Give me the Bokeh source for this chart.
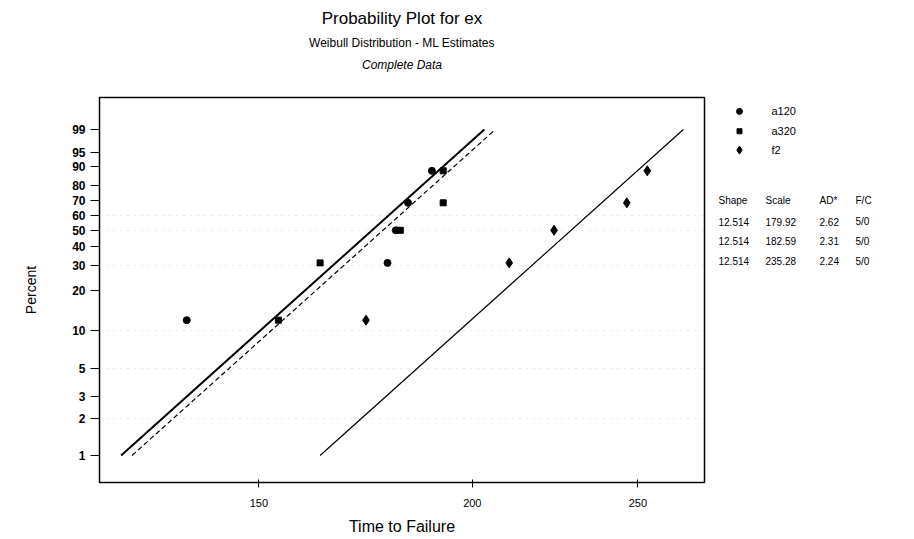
import numpy as np
from bokeh.plotting import figure
from bokeh.layouts import row
from bokeh.models import FixedTicker, Range1d, Title
from bokeh.core.properties import value
from bokeh.embed import file_html
from bokeh.resources import INLINE

# ---- data ----
groups = ["a120", "a320", "f2"]
percent = [12.0, 31.3, 50.0, 68.7, 88.0]
a120_time = [136.1, 178.4, 180.4, 183.4, 189.4]
a320_time = [154.0, 162.9, 181.5, 192.3, 192.3]
f2_time = [173.3, 210.2, 223.3, 246.3, 253.2]
shape = [12.514, 12.514, 12.514]
scale = [179.92, 182.59, 235.28]
ad_star = [2.62, 2.31, 2.24]
fc = ["5/0", "5/0", "5/0"]
table_header = ["Shape", "Scale", "AD*", "F/C"]
y_tick_pct = [1, 2, 3, 5, 10, 20, 30, 40, 50, 60, 70, 80, 90, 95, 99]
y_grid_pct = [2, 5, 10, 30, 50, 60]
x_ticks = [150, 200, 250]
line_pct = [1, 99]


def wb(p):
    p = np.asarray(p, dtype=float) / 100.0
    return np.log(-np.log(1.0 - p))


FONT = "Liberation Sans"
H = 537
P_W = 709
FRAME_TOP = 97
FRAME_BOTTOM = 485

p = figure(width=P_W, height=H, x_axis_type="log",
           x_range=Range1d(121.0, 273.5), y_range=Range1d(-5.109, 2.13),
           output_backend="svg", toolbar_location=None,
           min_border_left=99, min_border_right=5,
           min_border_top=FRAME_TOP, min_border_bottom=H - FRAME_BOTTOM)

p.background_fill_color = "white"
p.border_fill_color = "white"
p.outline_line_color = "black"
p.outline_line_width = 1.5

# titles (first added sits closest to the frame); first one is a blank spacer
p.add_layout(Title(text=" ", align="center", text_font=FONT,
                   text_font_size="12px", standoff=4), "above")
p.add_layout(Title(text="Complete Data", align="center", text_font=FONT,
                   text_font_size="12px", text_font_style="italic",
                   text_color="black", standoff=12), "above")
p.add_layout(Title(text="Weibull Distribution - ML Estimates", align="center",
                   text_font=FONT, text_font_size="12px", text_color="black",
                   text_font_style="normal", standoff=0), "above")
p.add_layout(Title(text="Probability Plot for ex", align="center",
                   text_font=FONT, text_font_size="17px", text_color="black",
                   text_font_style="normal", standoff=12), "above")

p.xgrid.visible = False
p.ygrid.ticker = FixedTicker(ticks=list(wb(y_grid_pct)))
p.ygrid.grid_line_color = "#cccccc"
p.ygrid.grid_line_dash = "1 6"
p.ygrid.grid_line_alpha = 0.8

# axes
p.yaxis.ticker = FixedTicker(ticks=list(wb(y_tick_pct)))
p.yaxis.major_label_overrides = {float(v): str(t) for v, t in zip(wb(y_tick_pct), y_tick_pct)}
p.yaxis.minor_tick_line_color = None
p.yaxis.major_tick_out = 9
p.yaxis.major_tick_in = 0
p.yaxis.major_label_text_font = FONT
p.yaxis.major_label_text_font_size = "12px"
p.yaxis.major_label_text_font_style = "bold"
p.yaxis.major_label_text_color = "black"
p.yaxis.major_label_standoff = 5
p.yaxis.axis_label = "Percent"
p.yaxis.axis_label_text_font = FONT
p.yaxis.axis_label_text_font_size = "14px"
p.yaxis.axis_label_text_font_style = "normal"
p.yaxis.axis_label_text_color = "black"
p.yaxis.axis_label_standoff = 30
p.yaxis.axis_line_color = "black"

p.xaxis.ticker = FixedTicker(ticks=x_ticks)
p.xaxis.major_label_overrides = {t: str(t) for t in x_ticks}
p.xaxis.minor_tick_line_color = None
p.xaxis.major_tick_out = 5
p.xaxis.major_tick_in = 3
p.xaxis.major_label_text_font = FONT
p.xaxis.major_label_text_font_size = "11px"
p.xaxis.major_label_text_color = "black"
p.xaxis.major_label_standoff = 11
p.xaxis.axis_label = "Time to Failure"
p.xaxis.axis_label_text_font = FONT
p.xaxis.axis_label_text_font_size = "16px"
p.xaxis.axis_label_text_font_style = "normal"
p.xaxis.axis_label_text_color = "black"
p.xaxis.axis_label_standoff = 8
p.xaxis.axis_line_color = "black"

# fitted lines
line_styles = [dict(line_width=2.0, line_dash="solid"),
               dict(line_width=1.2, line_dash="5 3"),
               dict(line_width=1.2, line_dash="solid")]
for sh, sc, st in zip(shape, scale, line_styles):
    yy = wb(line_pct)
    xx = sc * np.exp(yy / sh)
    p.line(list(xx), list(yy), line_color="black", **st)

yv = list(wb(percent))
p.scatter(a120_time, yv, marker="circle", size=7, color="black")
p.scatter(a320_time, yv, marker="square", size=6, color="black")
p.scatter(f2_time, yv, marker="diamond", size=10, color="black")

# ---- side panel: legend + parameter table (pixel coordinates) ----
S_W = 200
s = figure(width=S_W, height=H, x_range=Range1d(P_W, P_W + S_W),
           y_range=Range1d(FRAME_BOTTOM, FRAME_TOP), output_backend="svg",
           toolbar_location=None,
           min_border_left=0, min_border_right=0, min_border_top=FRAME_TOP,
           min_border_bottom=H - FRAME_BOTTOM)
s.axis.visible = False
s.grid.visible = False
s.outline_line_color = None
s.background_fill_color = "white"
s.border_fill_color = "white"

legend_markers = ["circle", "square", "diamond"]
legend_sizes = [6, 5, 8]
legend_y = [111, 131, 150]
for g, m, sz, ly in zip(groups, legend_markers, legend_sizes, legend_y):
    s.scatter([739], [ly], marker=m, size=sz, color="black")
    s.text([771], [ly], text=[g], text_font=value(FONT), text_font_size="11px",
           text_baseline="middle", text_align="left", text_color="black")

col_x = [718, 765, 819, 855]
s.text(col_x, [201] * 4, text=table_header, text_font=value(FONT),
       text_font_size="10px", text_baseline="middle", text_align="left",
       text_color="black")
row_y = [222, 242, 262]
for sh, sc, a, f, ry in zip(shape, scale, ad_star, fc, row_y):
    s.text(col_x, [ry] * 4, text=[f"{sh:.3f}", f"{sc:.2f}", f"{a:.2f}", f],
           text_font=value(FONT), text_font_size="10px", text_baseline="middle",
           text_align="left", text_color="black")

layout = row(p, s)
open("out.html", "w").write(file_html(layout, INLINE))
